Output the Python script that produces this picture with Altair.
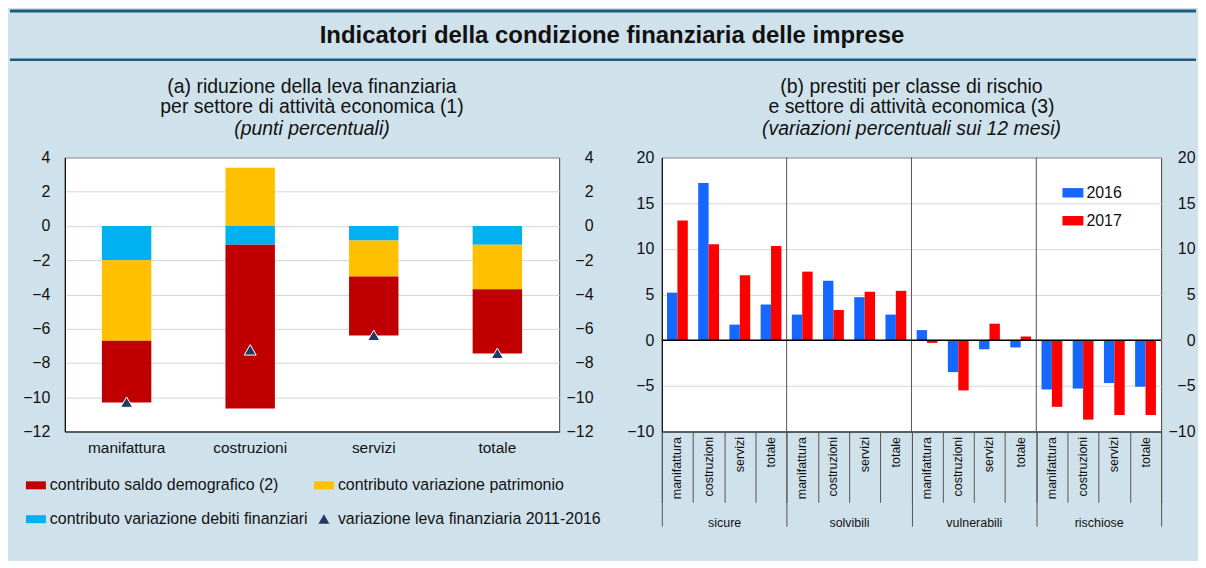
import altair as alt
import pandas as pd

FONT = "Liberation Sans"

# ---------------- panel (a) ----------------
settori = ["manifattura", "costruzioni", "servizi", "totale"]
contributo_demografico = [-3.6, -9.55, -3.45, -3.75]
contributo_patrimonio = [-4.7, 3.4, -2.1, -2.6]
contributo_debiti = [-2.0, -1.1, -0.85, -1.1]
variazione_leva = [-10.3, -7.25, -6.4, -7.45]
serie_a = [
    "contributo saldo demografico (2)",
    "contributo variazione patrimonio",
    "contributo variazione debiti finanziari",
    "variazione leva finanziaria 2011-2016",
]
colori_a = ["#c00000", "#ffc000", "#00b0f0", "#1f3864"]
tick_a = [-12, -10, -8, -6, -4, -2, 0, 2, 4]

# ---------------- panel (b) ----------------
classi = ["sicure", "solvibili", "vulnerabili", "rischiose"]
settori_b = ["manifattura", "costruzioni", "servizi", "totale"]
prestiti_2016 = [5.2, 17.2, 1.7, 3.9, 2.8, 6.5, 4.7, 2.8, 1.1, -3.5, -1.0, -0.8, -5.4, -5.3, -4.7, -5.1]
prestiti_2017 = [13.1, 10.5, 7.1, 10.3, 7.5, 3.3, 5.3, 5.4, -0.3, -5.5, 1.8, 0.4, -7.3, -8.7, -8.2, -8.2]
anni = ["2016", "2017"]
colori_b = ["#1467ff", "#ff0000"]
tick_b = [-10, -5, 0, 5, 10, 15, 20]

RECT = "M-1,-0.4H1V0.4H-1Z"
RECT_B = "M-1,-0.45H1V0.45H-1Z"
TRI = "M0,-0.5L0.55,0.45L-0.55,0.45Z"

LEFT_EXT = 55

# ---------- data tables ----------
rows = []
componenti = [(serie_a[2], contributo_debiti), (serie_a[1], contributo_patrimonio), (serie_a[0], contributo_demografico)]
for i, s in enumerate(settori):
    for ordine, (serie, vals) in enumerate(componenti):
        rows.append({"settore": s, "serie": serie, "valore": vals[i], "ordine": ordine})
df_a = pd.DataFrame(rows)
df_leva = pd.DataFrame({"settore": settori, "valore": variazione_leva, "serie": serie_a[3]})

cats = []
rows_b = []
for gi, g in enumerate(classi):
    for si, s in enumerate(settori_b):
        c = g + "|" + s
        cats.append(c)
        k = gi * len(settori_b) + si
        rows_b.append({"cat": c, "anno": anni[0], "valore": prestiti_2016[k]})
        rows_b.append({"cat": c, "anno": anni[1], "valore": prestiti_2017[k]})
df_b = pd.DataFrame(rows_b)
df_confini = pd.DataFrame({"pos": [len(settori_b) * i for i in range(1, len(classi))]})
df_zero = pd.DataFrame({"inizio": [0], "fine": [len(classi)], "y": [0]})

# ---------- panel (a) ----------
# legend grid fills column by column: order entries so rows read as in the original
ordine_legenda = [serie_a[0], serie_a[2], serie_a[1], serie_a[3]]
legend_a = alt.Legend(
    title=None, orient="none", legendX=-39, legendY=319, columns=2, values=ordine_legenda,
    columnPadding=6, rowPadding=16, labelFontSize=16, labelOffset=4,
    symbolSize=400, symbolStrokeWidth=0, padding=0, labelLimit=400,
    labelColor="#111",
)
scale_ya = alt.Scale(domain=[-12, 4], nice=False, zero=False)
x_a = alt.X(
    "settore:N", sort=settori,
    scale=alt.Scale(paddingInner=0.6, paddingOuter=0.3),
    axis=alt.Axis(title=None, labelAngle=0, labelFontSize=15.5, labelPadding=9,
                  ticks=False, domainColor="#000", grid=False, labelColor="#111"),
)
bars_a = alt.Chart(df_a).mark_bar().encode(
    x=x_a,
    y=alt.Y("valore:Q", stack="zero", scale=scale_ya,
            axis=alt.Axis(title=None, orient="left", values=tick_a, labelFontSize=16,
                          labelPadding=15, ticks=False, domainColor="#000",
                          gridColor="#d6d6d6", minExtent=LEFT_EXT, maxExtent=LEFT_EXT, labelColor="#111")),
    color=alt.Color("serie:N", scale=alt.Scale(domain=serie_a, range=colori_a), legend=legend_a),
    order=alt.Order("ordine:Q"),
)
punti_a = alt.Chart(df_leva).mark_point(filled=True, size=480, stroke="white", strokeWidth=1, opacity=1).encode(
    x=x_a,
    y=alt.Y("valore:Q", scale=scale_ya,
            axis=alt.Axis(title=None, orient="right", values=tick_a, labelFontSize=16,
                          labelAlign="right", labelPadding=34, ticks=False, domain=False,
                          grid=False, minExtent=50, maxExtent=50, labelColor="#111")),
    color=alt.Color("serie:N", scale=alt.Scale(domain=serie_a, range=colori_a), legend=legend_a),
    shape=alt.Shape("serie:N", scale=alt.Scale(domain=serie_a, range=[RECT, RECT, RECT, TRI]), legend=legend_a),
)
left = alt.layer(bars_a, punti_a).resolve_axis(y="independent").properties(
    width=496, height=275,
    title=alt.Title(
        text=["(a) riduzione della leva finanziaria", "per settore di attività economica (1)"],
        subtitle="(punti percentuali)",
    ),
    view=alt.ViewBackground(fill="white", stroke="#444"),
)

# ---------- panel (b) ----------
scale_yb = alt.Scale(domain=[-10, 20], nice=False, zero=False)
nomi_classi = "[" + ",".join("'" + c + "'" for c in classi) + "]"
n_cl = len(classi)
bars_b = alt.Chart(df_b).mark_bar().encode(
    x=alt.X("cat:N", sort=cats, scale=alt.Scale(paddingInner=0, paddingOuter=0),
            axis=alt.Axis(title=None, orient="bottom", labelAngle=-90,
                          labelExpr="split(datum.value, '|')[1]",
                          labelFontSize=12.5, labelPadding=5, ticks=False, domainColor="#000",
                          grid=False, labelColor="#111")),
    xOffset=alt.XOffset("anno:N", sort=anni, scale=alt.Scale(paddingOuter=0.5, paddingInner=0)),
    y=alt.Y("valore:Q", scale=scale_yb,
            axis=alt.Axis(title=None, orient="left", values=tick_b, labelFontSize=16, labelPadding=8,
                          ticks=False, domainColor="#000", gridColor="#d6d6d6",
                          minExtent=51, maxExtent=51, labelColor="#111")),
    color=alt.Color("anno:N", scale=alt.Scale(domain=anni, range=colori_b),
                    legend=alt.Legend(title=None, orient="none", legendX=402, legendY=25,
                                      symbolType=RECT_B, symbolSize=441, symbolStrokeWidth=0,
                                      labelFontSize=16, labelOffset=3, rowPadding=9, padding=0,
                                      labelColor="#111")),
)
confini_b = alt.Chart(df_confini).mark_rule(color="#555", strokeWidth=1).encode(
    x=alt.X("pos:Q", scale=alt.Scale(domain=[0, len(cats)], nice=False, zero=False),
            axis=alt.Axis(title=None, orient="bottom", values=list(range(len(cats) + 1)), labels=False,
                          tickSize=71, tickColor="#555", domain=False, grid=False)),
)
zero_b = alt.Chart(df_zero).mark_rule(color="black", strokeWidth=1.5).encode(
    x=alt.X("inizio:Q", scale=alt.Scale(domain=[0, n_cl], nice=False, zero=False),
            axis=alt.Axis(title=None, orient="bottom", values=list(range(n_cl + 1)), tickSize=95,
                          tickColor="#555", domain=False, grid=False, labelAngle=0,
                          labelAlign="center", labelBaseline="alphabetic", labelPadding=0,
                          labelOffset={"condition": {"test": "datum.value >= " + str(n_cl), "value": 0},
                                       "value": 62.6},
                          labelFlush=False, labelOverlap=False,
                          labelFontSize=12.5, labelColor="#111",
                          labelExpr="datum.value < " + str(n_cl) + " ? " + nomi_classi + "[datum.value] : ''")),
    x2="fine:Q",
    y=alt.Y("y:Q", scale=scale_yb,
            axis=alt.Axis(title=None, orient="right", values=tick_b, labelFontSize=16,
                          labelAlign="right", labelPadding=34, ticks=False, domain=False,
                          grid=False, minExtent=34, maxExtent=34, labelColor="#111")),
)
right = alt.layer(bars_b, confini_b, zero_b).resolve_scale(x="independent").resolve_axis(
    x="independent", y="independent"
).properties(
    width=501, height=275,
    title=alt.Title(
        text=["(b) prestiti per classe di rischio", "e settore di attività economica (3)"],
        subtitle="(variazioni percentuali sui 12 mesi)",
    ),
    view=alt.ViewBackground(fill="white", stroke="#444"),
)

# ---------- header ----------
HEAD_W = 1190 - LEFT_EXT
df_head = pd.DataFrame({"t": ["Indicatori della condizione finanziaria delle imprese"]})
linea_alta = alt.Chart(df_head).mark_rule(color="#1a5b80", strokeWidth=3).encode(
    x=alt.value(-LEFT_EXT), x2=alt.value(HEAD_W), y=alt.value(0))
linea_bassa = alt.Chart(df_head).mark_rule(color="#1a5b80", strokeWidth=2.5).encode(
    x=alt.value(-LEFT_EXT), x2=alt.value(HEAD_W), y=alt.value(49))
titolo = alt.Chart(df_head).mark_text(fontSize=24, fontWeight="bold", color="#111").encode(
    text="t:N", x=alt.value(604 - LEFT_EXT), y=alt.value(25))
header = alt.layer(linea_alta, linea_bassa, titolo).properties(
    width=HEAD_W, height=52, view=alt.ViewBackground(stroke="transparent"))

body = alt.hconcat(left, right, spacing=0).resolve_scale(color="independent", shape="independent")

chart = alt.vconcat(header, body, spacing=12).properties(
    background="#cfe1eb",
    padding={"left": 0, "top": 0, "right": 0, "bottom": 31},
).configure(font=FONT).configure_view(stroke="transparent").configure_title(
    fontSize=19.5, fontWeight="normal", lineHeight=20, subtitleFontSize=19.5,
    subtitleFontStyle="italic", subtitlePadding=3, offset=10, anchor="middle",
    frame="group", color="#111", subtitleColor="#111", font=FONT, subtitleFont=FONT,
)

chart.save("out.html", embed_options={"renderer": "svg", "actions": False})
